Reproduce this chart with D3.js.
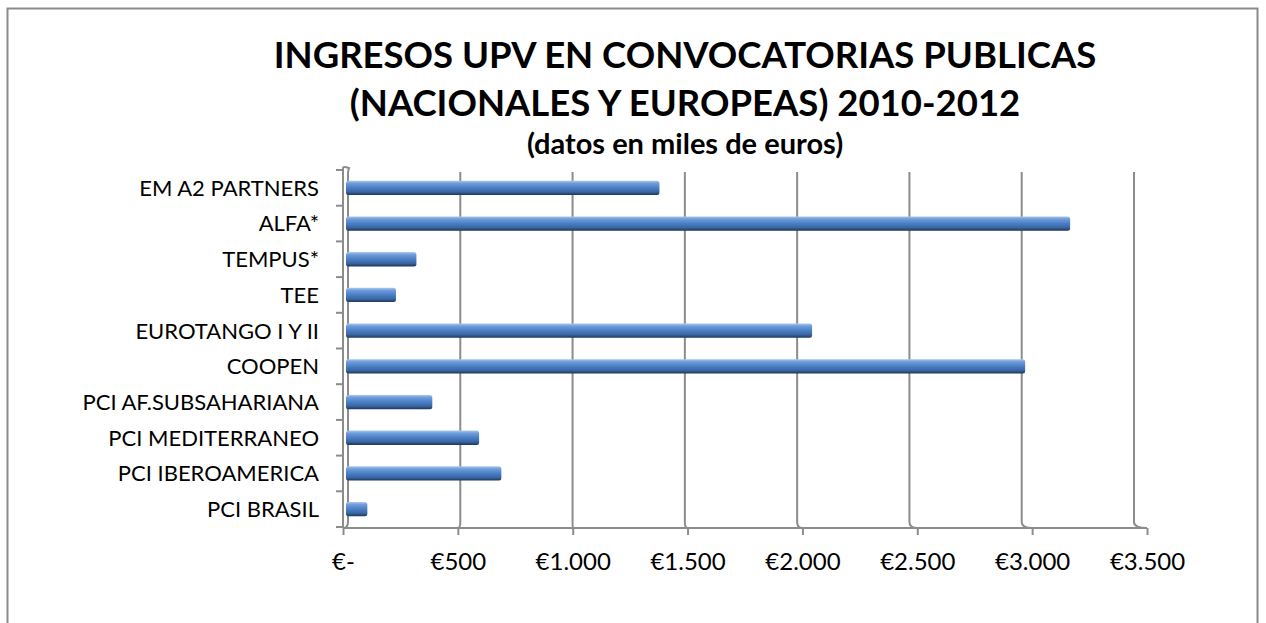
<!DOCTYPE html>
<html>
<head>
<meta charset="utf-8">
<script src="https://cdn.jsdelivr.net/npm/d3@7"></script>
<style>
  html, body { margin: 0; padding: 0; background: #fff; }
  svg { display: block; font-family: Lato, "Open Sans", sans-serif; }
  .title { font-weight: bold; fill: #000; }
  .cat text, .xaxis text { fill: #000; }
</style>
</head>
<body>
<svg id="chart" width="1266" height="623"></svg>
<script>
  // Data (miles de euros), top to bottom as shown
  const categories = [
    "EM A2 PARTNERS",
    "ALFA*",
    "TEMPUS*",
    "TEE",
    "EUROTANGO I Y II",
    "COOPEN",
    "PCI AF.SUBSAHARIANA",
    "PCI MEDITERRANEO",
    "PCI IBEROAMERICA",
    "PCI BRASIL"
  ];
  const ingresos = [1380, 3188, 310, 220, 2052, 2990, 380, 586, 684, 94];
  const xTicks = [0, 500, 1000, 1500, 2000, 2500, 3000, 3500];
  const titleLines = [
    "INGRESOS UPV EN CONVOCATORIAS PUBLICAS",
    "(NACIONALES Y EUROPEAS) 2010-2012"
  ];
  const subtitle = "(datos en miles de euros)";

  const svg = d3.select("#chart");

  // chart frame
  svg.append("rect")
    .attr("x", 7.5).attr("y", 8.5)
    .attr("width", 1250).attr("height", 700)
    .attr("fill", "#fff")
    .attr("stroke", "#8a8a8a")
    .attr("stroke-width", 2);

  // bar gradient (Excel 3D look)
  const defs = svg.append("defs");
  const grad = defs.append("linearGradient")
    .attr("id", "barGrad")
    .attr("x1", 0).attr("y1", 0).attr("x2", 0).attr("y2", 1);
  [
    [0, "#a9c8ee"],
    [0.18, "#6f9ddb"],
    [0.5, "#4a7ec4"],
    [0.78, "#3a66a3"],
    [1, "#1e3658"]
  ].forEach(([o, c]) => grad.append("stop").attr("offset", o).attr("stop-color", c));

  // scales: back wall, bar plane and front floor edge (3D perspective)
  const xBack = d3.scaleLinear().domain([0, 3500]).range([348, 1134]);
  const xBar = d3.scaleLinear().domain([0, 3500]).range([346, 1141]);
  const xFront = d3.scaleLinear().domain([0, 3500]).range([343, 1147]);

  const y = d3.scaleBand()
    .domain(categories)
    .range([170, 527])
    .paddingInner(0.6)
    .paddingOuter(0.3);

  const topBack = 172, floorBack = 522, axisY = 528;

  // gridlines on the back wall, bending to the front floor ticks
  svg.append("g")
    .selectAll("path")
    .data(xTicks)
    .join("path")
    .attr("d", d => {
      const xb = xBack(d), xf = xFront(d);
      return `M${xb},${topBack} L${xb},${floorBack} Q${xb},${axisY} ${xf},${axisY}`;
    })
    .attr("fill", "none")
    .attr("stroke", "#8c8c8c")
    .attr("stroke-width", 2);

  // left wall front edge + top bracket
  svg.append("path")
    .attr("d", `M${xFront(0)},${axisY} L${xFront(0)},168 Q${xFront(0)},166 349,168 L${xBack(0)},${topBack}`)
    .attr("fill", "none")
    .attr("stroke", "#8c8c8c")
    .attr("stroke-width", 2);

  // floor front edge
  svg.append("line")
    .attr("x1", xFront(0)).attr("x2", xFront(3500))
    .attr("y1", axisY).attr("y2", axisY)
    .attr("stroke", "#8c8c8c")
    .attr("stroke-width", 2);

  // category boundary ticks on the left
  const step = y.step();
  const bounds = d3.range(categories.length + 1).map(i => 170 + i * step);
  svg.append("g")
    .selectAll("line")
    .data(bounds)
    .join("line")
    .attr("x1", xFront(0) - 7).attr("x2", xFront(0))
    .attr("y1", d => d).attr("y2", d => d)
    .attr("stroke", "#8c8c8c")
    .attr("stroke-width", 2);

  // bars
  svg.append("g")
    .selectAll("rect")
    .data(categories)
    .join("rect")
    .attr("x", xBar(0))
    .attr("y", d => y(d))
    .attr("width", (d, i) => xBar(ingresos[i]) - xBar(0))
    .attr("height", y.bandwidth())
    .attr("rx", 2.5)
    .attr("fill", "url(#barGrad)");

  // x axis (front edge)
  const es = d3.formatLocale({ decimal: ",", thousands: ".", grouping: [3], currency: ["€", ""] });
  const fmt = es.format("$,");
  const xAxis = d3.axisBottom(xFront)
    .tickValues(xTicks)
    .tickSize(7)
    .tickFormat(d => d === 0 ? "€-" : fmt(d));
  const gx = svg.append("g")
    .attr("class", "xaxis")
    .attr("transform", `translate(0,${axisY})`)
    .call(xAxis);
  gx.select(".domain").remove();
  gx.selectAll(".tick line").attr("stroke", "#8c8c8c").attr("stroke-width", 2);
  gx.selectAll(".tick text")
    .attr("y", 42).attr("dy", 0)
    .style("font-size", "24px")
    .style("font-family", "Lato, sans-serif");

  // y axis labels
  const yAxis = d3.axisLeft(y).tickSize(0).tickPadding(24);
  const gy = svg.append("g")
    .attr("class", "cat")
    .attr("transform", `translate(${xFront(0)},0)`)
    .call(yAxis);
  gy.select(".domain").remove();
  gy.selectAll(".tick text")
    .attr("dy", "0.36em")
    .style("font-size", "22px")
    .style("font-family", "Lato, sans-serif");

  // titles
  const cx = 685;
  svg.selectAll("text.title")
    .data(titleLines)
    .join("text")
    .attr("class", "title")
    .attr("x", cx)
    .attr("y", (d, i) => 68 + i * 48)
    .attr("text-anchor", "middle")
    .style("font-size", "36.5px")
    .text(d => d);

  svg.append("text")
    .attr("class", "title")
    .attr("x", cx)
    .attr("y", 154)
    .attr("text-anchor", "middle")
    .style("font-size", "29px")
    .text(subtitle);
</script>
</body>
</html>
